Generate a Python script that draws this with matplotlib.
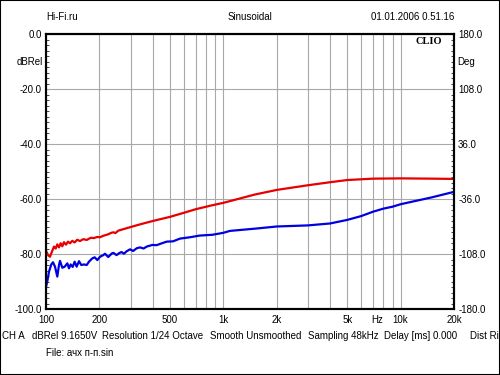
import numpy as np
import matplotlib
matplotlib.use("Agg")
import matplotlib.pyplot as plt
from matplotlib.patches import Rectangle
from matplotlib.ticker import FixedLocator, NullFormatter

plt.rcParams['font.family'] = ['Liberation Sans', 'DejaVu Sans']

# red trace (Hz, dBRel)
red_freq = [100, 100.9, 103, 105.3, 107.5, 110.9, 113.4, 115.8, 118.4, 121, 123.6,
            126.3, 129.7, 133.1, 136.6, 140.7, 145.1, 150.1, 155.4, 162.3, 169.7,
            178.6, 186.5, 194.7, 201.7, 210, 225, 233, 240, 246, 256, 300, 340,
            400, 500, 600, 700, 850, 1000, 1100, 1500, 2000, 3000, 4000, 5000,
            7000, 10000, 15000, 20000]
red_db = [-78.8, -79.4, -80.5, -81.0, -79.5, -77.3, -78.0, -76.5, -77.6, -76.1, -77.2,
          -75.7, -76.6, -75.5, -76.1, -75.2, -75.8, -74.8, -75.3, -74.6, -74.9,
          -74.1, -74.2, -73.8, -73.9, -73.4, -72.8, -72.3, -72.1, -72.4, -71.5, -70.2, -69.2,
          -68.0, -66.5, -65.0, -63.7, -62.4, -61.4, -60.7, -58.4, -56.7, -55.0, -53.9, -53.1,
          -52.6, -52.5, -52.6, -52.7]

# blue trace (Hz, dBRel)
blue_freq = [100, 102, 104, 107.1, 109.5, 112.4, 115.8, 118.4, 119.9, 123.6, 127.5,
             131.9, 134.8, 137.8, 141.4, 145.1, 148.9, 153.5, 158.1, 163.8, 169.7,
             174.7, 182.4, 188.2, 194.7, 201.7, 210.5, 215, 224.5, 235, 240, 250,
             260, 267, 275, 285, 298, 310, 325, 339, 355, 370, 398, 420, 450, 480,
             520, 570, 650, 735, 870, 1000, 1090, 1500, 2000, 3000, 4000, 5000,
             6000, 7000, 8000, 9000, 10000, 15000, 20000]
blue_db = [-92.0, -89.5, -86.4, -83.8, -83.0, -84.6, -88.2, -84.0, -82.5, -85.0, -84.6,
           -83.4, -85.2, -83.8, -84.7, -82.8, -84.6, -82.6, -84.0, -83.8, -84.0,
           -82.8, -81.6, -81.2, -82.2, -81.0, -80.4, -79.9, -81.1, -79.8, -79.6, -80.4,
           -79.6, -79.3, -79.9, -79.0, -78.3, -78.9, -77.9, -77.6, -78.0, -77.3, -76.7, -76.8, -76.1, -75.5,
           -75.4, -74.4, -73.9, -73.3, -73.0, -72.3, -71.6, -70.8, -70.0, -69.6, -68.9, -67.6,
           -66.2, -64.6, -63.5, -62.8, -61.9, -59.4, -57.4]

x_ticks = [100, 200, 500, 1000, 2000, 5000, 10000, 20000]
x_labels = ['100', '200', '500', '1k', '2k', '5k', '10k', '20k']
x_grid = [300, 400, 600, 700, 800, 900, 3000, 4000, 6000, 7000, 8000, 9000]
left_ticks = [0, -20, -40, -60, -80, -100]
right_ticks = [180, 108, 36, -36, -108, -180]

W, H = 500, 375
fig = plt.figure(figsize=(5, 3.75), dpi=100)
fig.patch.set_facecolor('white')

def px(x, y):
    return x / W, 1 - y / H

ax = fig.add_axes([46 / W, 1 - 309 / H, 408 / W, 275 / H])
ax.set_xscale('log')
ax.plot(red_freq, red_db, color='#e80000', lw=1.6, zorder=3)
ax.plot(blue_freq, blue_db, color='#0000e0', lw=1.6, zorder=4)
ax.set_xlim(100, 20000)
ax.set_ylim(-100, 0)

fs = 7

ax.xaxis.set_major_locator(FixedLocator(x_ticks))
ax.xaxis.set_minor_locator(FixedLocator(x_grid))
ax.xaxis.set_minor_formatter(NullFormatter())
ax.set_xticklabels(x_labels)
ax.yaxis.set_major_locator(FixedLocator(left_ticks))
ax.yaxis.set_minor_locator(FixedLocator(np.arange(-100, 0.1, 2)))
ax.set_yticklabels(['%.1f' % v for v in left_ticks])
ax.grid(True, which='major', color='#a8a8a8', lw=0.8)
ax.grid(True, which='minor', axis='x', color='#a8a8a8', lw=0.8)
ax.tick_params(axis='x', which='both', length=0, labelsize=fs, pad=4)
ax.tick_params(axis='y', which='major', length=0, labelsize=fs, pad=3)
ax.tick_params(axis='y', which='minor', direction='in', length=2, width=0.5)
for s in ax.spines.values():
    s.set_linewidth(1.5)

ax2 = ax.twinx()
ax2.set_ylim(-180, 180)
ax2.yaxis.set_major_locator(FixedLocator(right_ticks))
ax2.yaxis.set_minor_locator(FixedLocator(np.arange(-180, 180.1, 7.2)))
ax2.set_yticklabels(['%.1f' % v for v in right_ticks])
ax2.tick_params(axis='y', which='major', length=0, labelsize=fs, pad=3)
ax2.tick_params(axis='y', which='minor', direction='in', length=2, width=0.5)
for s in ax2.spines.values():
    s.set_linewidth(1.5)

fig.text(*px(46, 17), 'Hi-Fi.ru', fontsize=fs, va='center', ha='left')
fig.text(*px(250, 17), 'Sinusoidal', fontsize=fs, va='center', ha='center')
fig.text(*px(454, 17), '01.01.2006 0.51.16', fontsize=fs, va='center', ha='right')
fig.text(*px(43, 62), 'dBRel', fontsize=fs, va='center', ha='right')
fig.text(*px(457, 62), 'Deg', fontsize=fs, va='center', ha='left')
fig.text(*px(442, 41), 'CLIO', fontsize=7.5, va='center', ha='right',
         family='Liberation Serif', weight='bold')
fig.text(*px(377, 320), 'Hz', fontsize=fs, va='center', ha='center')

footer = [(2, 'CH A'), (32, 'dBRel 9.1650V'), (102, 'Resolution 1/24 Octave'),
          (210, 'Smooth Unsmoothed'), (308, 'Sampling 48kHz'),
          (384, 'Delay [ms] 0.000'), (470, 'Dist Ri')]
for x, t in footer:
    fig.text(*px(x, 336), t, fontsize=fs, va='center', ha='left')
fig.text(*px(46, 353), 'File: ачх п-п.sin', fontsize=fs, va='center', ha='left')

fig.patches.append(Rectangle((0, 0), 1, 1, transform=fig.transFigure, fill=False,
                             edgecolor='black', lw=1.5))

fig.savefig('out.png', dpi=100)
